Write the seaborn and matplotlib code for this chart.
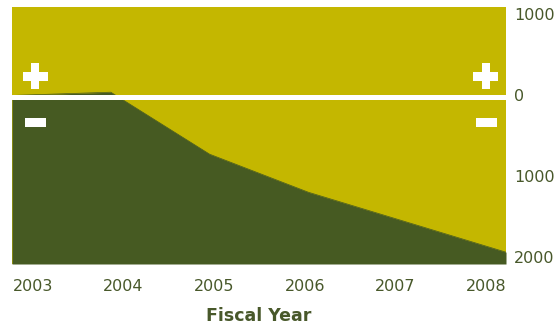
import numpy as np
import pandas as pd
import seaborn as sns
import matplotlib.pyplot as plt
from matplotlib.transforms import ScaledTranslation

# Chart data
years = [2003, 2004, 2005, 2006, 2007, 2008]
values = [25, 65, -700, -1170, -1540, -1910]
y_ticks = [1000, 0, -1000, -2000]
y_tick_labels = ["1000", "0", "1000", "2000"]

yellow = "#c4b700"
green = "#465a22"
text_color = "#48582a"

df = pd.DataFrame({"year": years, "value": values})

sns.set_style("white")
plt.rcParams["font.family"] = ["DejaVu Sans"]

fig = plt.figure(figsize=(5.59, 3.25), dpi=100)
ax = fig.add_axes([12 / 559, 61 / 325, 494 / 559, 257 / 325])
ax.set_facecolor(yellow)

ymin, ymax = -2056, 1117

# Area below the line
ax.fill_between(df["year"], df["value"], ymin, color=green, linewidth=0)
sns.lineplot(data=df, x="year", y="value", ax=ax, color=green, linewidth=0.5)

# Zero divider
ax.axhline(0, color="white", linewidth=3.6)

ax.set_xlim(years[0], years[-1])
ax.set_ylim(ymin, ymax)

# Tick labels (evenly spread, slightly inset)
ax.set_xticks(np.linspace(2003.21, 2007.8, len(years)))
ax.set_xticklabels([str(y) for y in years])
ax.yaxis.tick_right()
ax.set_yticks(y_ticks)
ax.set_yticklabels(y_tick_labels)
ax.tick_params(axis="x", length=0, pad=11, labelsize=11.5, labelcolor=text_color)
ax.tick_params(axis="y", length=0, pad=6, labelsize=11.5, labelcolor=text_color)
for lab in ax.get_yticklabels():
    lab.set_transform(lab.get_transform() + ScaledTranslation(0, 0.025, fig.dpi_scale_trans))

ax.set_xlabel("Fiscal Year", fontsize=12.5, fontweight="bold", color=text_color, labelpad=9)
ax.set_ylabel("")
for s in ax.spines.values():
    s.set_visible(False)

# Plus / minus signs
W, H = 494, 257
for xc in [35.2 / W - 12 / W, 486 / W - 12 / W]:
    yc = (264 - 76.2) / H
    ax.add_patch(plt.Rectangle((xc - 12.5 / W, yc - 4.5 / H), 25 / W, 9 / H,
                               transform=ax.transAxes, color="white", lw=0))
    ax.add_patch(plt.Rectangle((xc - 4.2 / W, yc - 12.8 / H), 8.4 / W, 25.6 / H,
                               transform=ax.transAxes, color="white", lw=0))
    ym = (264 - 122.5) / H
    ax.add_patch(plt.Rectangle((xc - 10.5 / W, ym - 4.5 / H), 21 / W, 9 / H,
                               transform=ax.transAxes, color="white", lw=0))

fig.savefig("out.png", dpi=100)
